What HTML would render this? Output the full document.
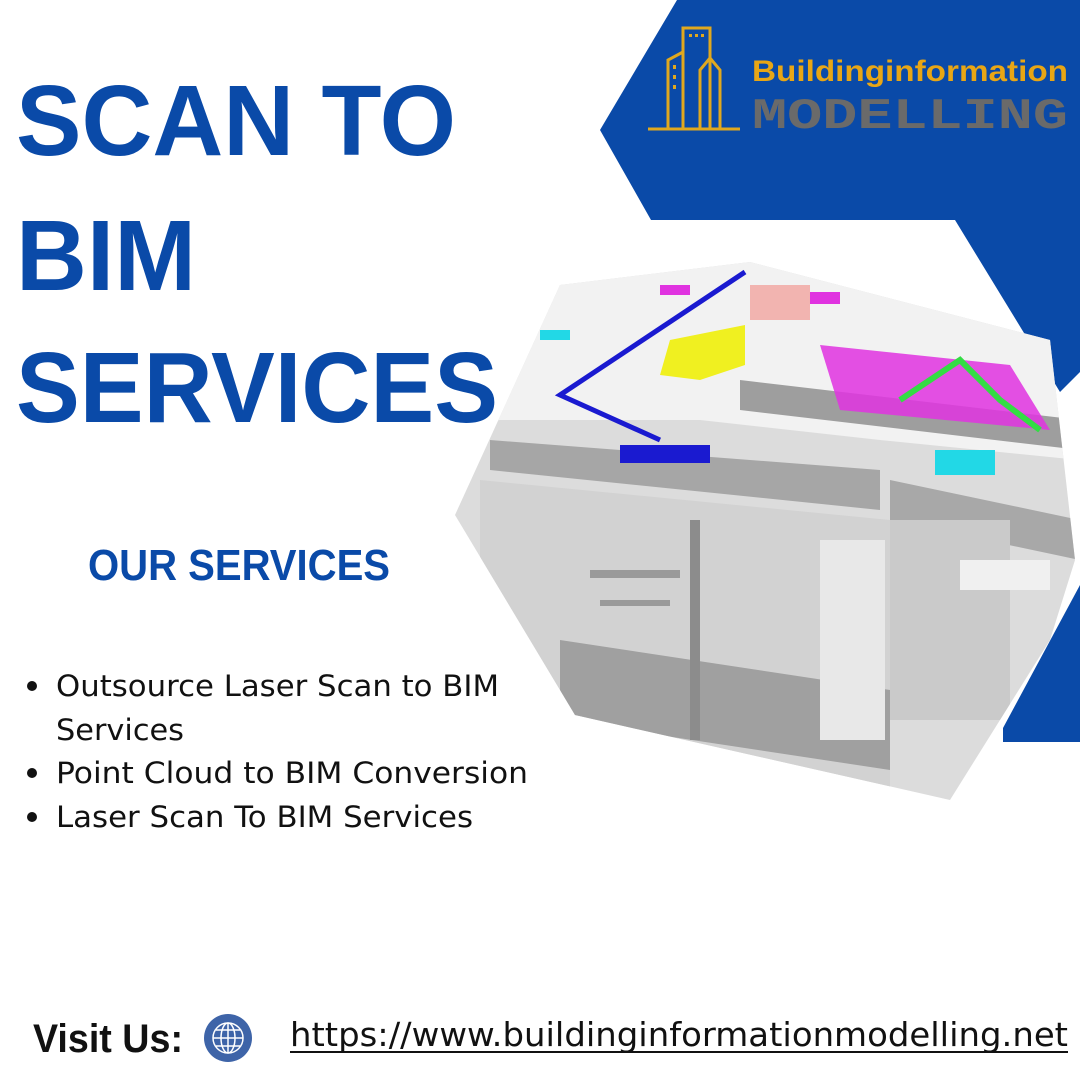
<!DOCTYPE html>
<html><head><meta charset="utf-8"><style>html,body{margin:0;padding:0;background:#fff}svg{display:block}</style></head>
<body>
<svg width="1080" height="1080" viewBox="0 0 1080 1080" xmlns="http://www.w3.org/2000/svg">
<rect width="1080" height="1080" fill="#fff"/>
<polygon points="677,0 1080,0 1080,372 1060,392 955,220 651,220 600,130" fill="#0a4aa8"/>
<polygon points="1080,585 1080,742 1003,742 1003,728" fill="#0a4aa8"/>
<!-- hexagon image -->
<clipPath id="hx"><polygon points="560,285 750,262 1050,340 1075,560 1050,640 950,800 575,715 455,515"/></clipPath>
<g clip-path="url(#hx)">
<rect x="440" y="250" width="640" height="560" fill="#dcdcdc"/>
<polygon points="440,250 1080,250 1080,460 880,440 700,420 500,420 440,430" fill="#f2f2f2"/>
<polygon points="490,440 880,470 880,510 490,470" fill="#a6a6a6"/>
<polygon points="740,380 1080,420 1080,450 740,410" fill="#9e9e9e"/>
<polygon points="480,480 890,520 890,800 480,760" fill="#d2d2d2"/>
<polygon points="560,640 890,690 890,770 560,720" fill="#a0a0a0"/>
<polygon points="890,480 1080,520 1080,560 890,520" fill="#a8a8a8"/>
<rect x="820" y="540" width="65" height="200" fill="#e8e8e8"/>
<rect x="890" y="520" width="120" height="200" fill="#cacaca"/>
<rect x="960" y="560" width="90" height="30" fill="#f0f0f0"/>
<rect x="690" y="520" width="10" height="220" fill="#8c8c8c"/>
<rect x="590" y="570" width="90" height="8" fill="#9a9a9a"/>
<rect x="600" y="600" width="70" height="6" fill="#9a9a9a"/>
<polyline points="745,272 560,395 660,440" stroke="#1a1ad0" stroke-width="5" fill="none"/>
<rect x="620" y="445" width="90" height="18" fill="#1a1ad0"/>
<polygon points="670,340 745,325 745,365 700,380 660,375" fill="#f0f020"/>
<rect x="750" y="285" width="60" height="35" fill="#f2b4b0"/>
<rect x="810" y="292" width="30" height="12" fill="#e033e0"/>
<polygon points="820,345 1010,365 1050,430 840,410" fill="#e033e0" opacity="0.85"/>
<polyline points="900,400 960,360 1000,400 1040,430" stroke="#33dd44" stroke-width="6" fill="none"/>
<rect x="935" y="450" width="60" height="25" fill="#22d8e6"/>
<rect x="540" y="330" width="30" height="10" fill="#22d8e6"/>
<rect x="660" y="285" width="30" height="10" fill="#e033e0"/>
</g>
<!-- logo -->
<g stroke="#e0a81e" stroke-width="3" fill="none">
<line x1="648" y1="129" x2="740" y2="129"/>
<path d="M668 129 V60 L683 52"/>
<rect x="683" y="28" width="27" height="101"/>
<path d="M700 129 V70 L710 58 L720 70 V129"/>
</g>
<g fill="#e0a81e"><rect x="689" y="34" width="3" height="3"/><rect x="695" y="34" width="3" height="3"/><rect x="701" y="34" width="3" height="3"/>
<rect x="673" y="65" width="3" height="4"/><rect x="673" y="75" width="3" height="4"/><rect x="673" y="85" width="3" height="4"/></g>
<text x="752" y="81" font-family="Liberation Sans, sans-serif" font-weight="bold" font-size="30" fill="#e8a615" textLength="316" lengthAdjust="spacingAndGlyphs">Buildinginformation</text>
<text x="752" y="128" font-family="Liberation Mono, monospace" font-weight="bold" font-size="44" fill="#6a6a6a" textLength="316" lengthAdjust="spacingAndGlyphs">MODELLING</text>
<g font-family="Liberation Sans, sans-serif" font-weight="bold" fill="#0a4aa8">
<text x="16" y="155" font-size="100" textLength="440" lengthAdjust="spacingAndGlyphs">SCAN TO</text>
<text x="16" y="290" font-size="100" textLength="180" lengthAdjust="spacingAndGlyphs">BIM</text>
<text x="16" y="422" font-size="100" textLength="482" lengthAdjust="spacingAndGlyphs">SERVICES</text>
<text x="88" y="580" font-size="44" textLength="302" lengthAdjust="spacingAndGlyphs">OUR SERVICES</text>
</g>
<g font-family="DejaVu Sans, Liberation Sans, sans-serif" font-size="29" fill="#111">
<circle cx="32" cy="686" r="5" fill="#111"/>
<circle cx="32" cy="773" r="5" fill="#111"/>
<circle cx="32" cy="817" r="5" fill="#111"/>
<text x="56" y="696" textLength="443" lengthAdjust="spacingAndGlyphs">Outsource Laser Scan to BIM</text>
<text x="56" y="740" textLength="128" lengthAdjust="spacingAndGlyphs">Services</text>
<text x="56" y="783" textLength="472" lengthAdjust="spacingAndGlyphs">Point Cloud to BIM Conversion</text>
<text x="56" y="827" textLength="417" lengthAdjust="spacingAndGlyphs">Laser Scan To BIM Services</text>
</g>
<text x="33" y="1052" font-family="Liberation Sans, sans-serif" font-weight="bold" font-size="40" fill="#111" textLength="150" lengthAdjust="spacingAndGlyphs">Visit Us:</text>
<circle cx="228" cy="1038" r="24" fill="#3e64a8"/>
<g stroke="#fff" stroke-width="1.5" fill="none">
<circle cx="228" cy="1038" r="15"/>
<ellipse cx="228" cy="1038" rx="7" ry="15"/>
<line x1="228" y1="1023" x2="228" y2="1053"/>
<line x1="213" y1="1038" x2="243" y2="1038"/>
<line x1="216" y1="1030" x2="240" y2="1030"/>
<line x1="216" y1="1046" x2="240" y2="1046"/>
</g>
<text x="290" y="1046" font-family="DejaVu Sans, Liberation Sans, sans-serif" font-size="33" fill="#111" textLength="778" lengthAdjust="spacingAndGlyphs">https://www.buildinginformationmodelling.net</text>
<rect x="290" y="1051" width="778" height="2" fill="#111"/>
</svg>
</body></html>
